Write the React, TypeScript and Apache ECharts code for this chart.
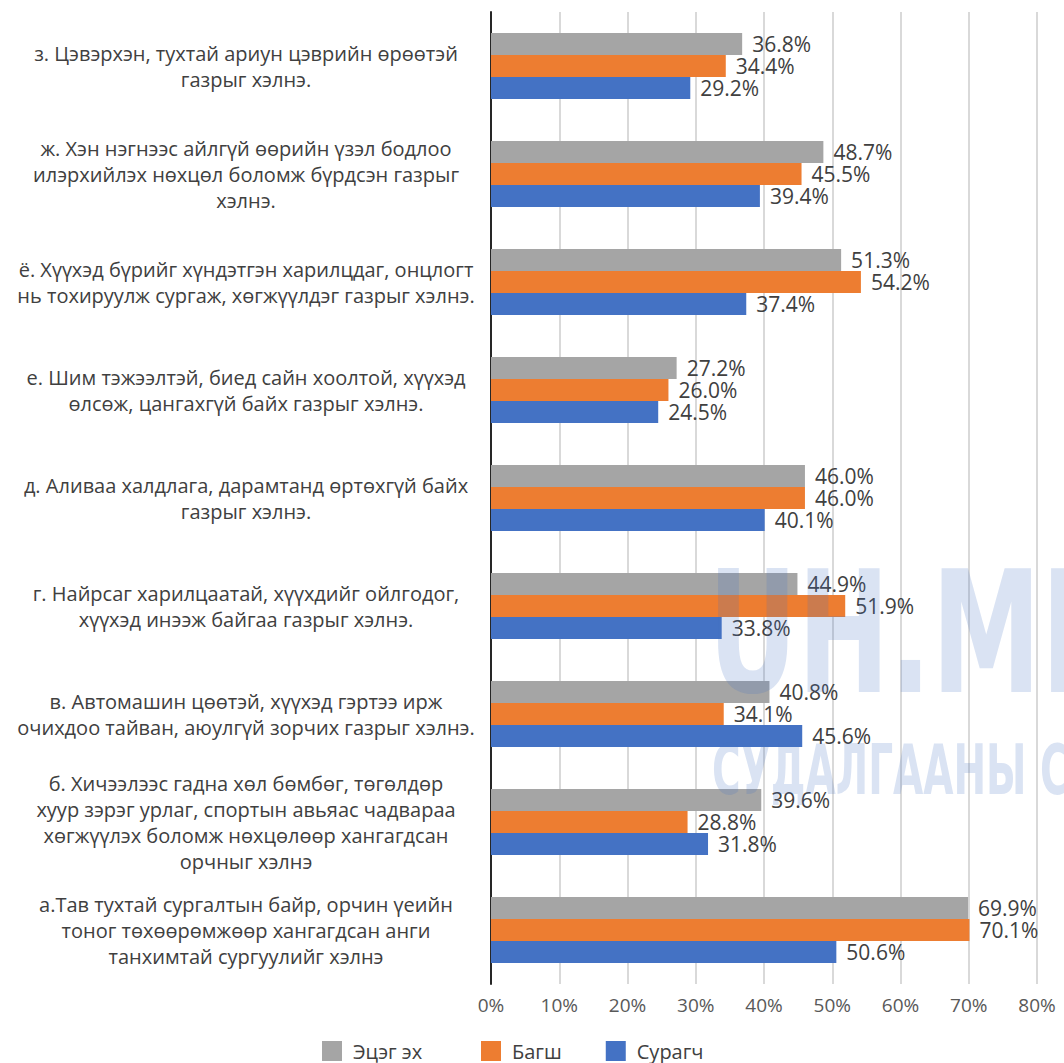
import React, { useEffect, useRef } from "react";
import * as echarts from "echarts";

const categories = [
  "а.Тав тухтай сургалтын байр, орчин үеийн\nтоног төхөөрөмжөөр хангагдсан анги\nтанхимтай сургуулийг хэлнэ",
  "б. Хичээлээс гадна хөл бөмбөг, төгөлдөр\nхуур зэрэг урлаг, спортын авьяас чадвараа\nхөгжүүлэх боломж нөхцөлөөр хангагдсан\nорчныг хэлнэ",
  "в. Автомашин цөөтэй, хүүхэд гэртээ ирж\nочихдоо тайван, аюулгүй зорчих газрыг хэлнэ.",
  "г. Найрсаг харилцаатай, хүүхдийг ойлгодог,\nхүүхэд инээж байгаа газрыг хэлнэ.",
  "д. Аливаа халдлага, дарамтанд өртөхгүй байх\nгазрыг хэлнэ.",
  "е. Шим тэжээлтэй, биед сайн хоолтой, хүүхэд\nөлсөж, цангахгүй байх газрыг хэлнэ.",
  "ё. Хүүхэд бүрийг хүндэтгэн харилцдаг, онцлогт\nнь тохируулж сургаж, хөгжүүлдэг газрыг хэлнэ.",
  "ж. Хэн нэгнээс айлгүй өөрийн үзэл бодлоо\nилэрхийлэх нөхцөл боломж бүрдсэн газрыг\nхэлнэ.",
  "з. Цэвэрхэн, тухтай ариун цэврийн өрөөтэй\nгазрыг хэлнэ.",
];

const parents = [69.9, 39.6, 40.8, 44.9, 46.0, 27.2, 51.3, 48.7, 36.8];
const teachers = [70.1, 28.8, 34.1, 51.9, 46.0, 26.0, 54.2, 45.5, 34.4];
const students = [50.6, 31.8, 45.6, 33.8, 40.1, 24.5, 37.4, 39.4, 29.2];

const xTicks = [0, 10, 20, 30, 40, 50, 60, 70, 80];

const FONT = "'Open Sans', 'Noto Sans', sans-serif";

export default function App() {
  const ref = useRef<HTMLDivElement>(null);
  useEffect(() => {
    document.body.style.margin = "0";
    const chart = echarts.init(ref.current!, null, { renderer: "svg" });
    const labelOpt = {
      show: true,
      position: "right",
      distance: 10,
      color: "#404040",
      fontSize: 21,
      lineHeight: 20,
      fontFamily: FONT,
      formatter: (p: any) => p.value.toFixed(1) + "%",
    };
    const mk = (name: string, data: number[], color: string) => ({
      name,
      type: "bar",
      data,
      barWidth: 22,
      barGap: "0%",
      itemStyle: { color },
      label: labelOpt,
    });
    const legendBase = {
      top: 1036,
      itemWidth: 20,
      itemHeight: 20,
      itemGap: 44,
      icon: "rect",
      textStyle: { fontSize: 20, lineHeight: 20, color: "#404040", fontFamily: FONT, padding: [0, 0, 0, 6] },
    };
    chart.setOption({
      animation: false,
      textStyle: { fontFamily: FONT },
      grid: { left: 491, right: 27, top: 12, bottom: 79, containLabel: false },
      legend: [
        { ...legendBase, data: ["Эцэг эх"], left: 317 },
        { ...legendBase, data: ["Багш", "Сурагч"], left: 476 },
      ],
      xAxis: {
        type: "value",
        min: xTicks[0],
        max: xTicks[xTicks.length - 1],
        interval: 10,
        axisLine: { show: false },
        axisTick: { show: false },
        axisLabel: {
          formatter: "{value}%",
          fontSize: 19,
          color: "#595959",
          fontFamily: FONT,
          margin: 11,
        },
        splitLine: { show: true, lineStyle: { color: "#d9d9d9", width: 2 } },
      },
      yAxis: {
        type: "category",
        data: categories,
        axisLine: { show: true, lineStyle: { color: "#262626", width: 2 } },
        axisTick: { show: false },
        axisLabel: {
          align: "center",
          margin: 245,
          fontSize: 20,
          lineHeight: 26,
          color: "#404040",
          fontFamily: FONT,
        },
      },
      series: [
        mk("Эцэг эх", parents, "#A5A5A5"),
        mk("Багш", teachers, "#ED7D31"),
        mk("Сурагч", students, "#4472C4"),
      ],
      graphic: [
        {
          type: "text",
          left: 708,
          top: 548,
          z: 100,
          scaleX: 0.72,
          style: {
            text: "UH.MN",
            font: "bold 170px 'DejaVu Sans Condensed', 'DejaVu Sans', sans-serif",
            fill: "rgba(68,114,196,0.2)",
          },
        },
        {
          type: "text",
          left: 712,
          top: 735,
          z: 100,
          scaleX: 0.62,
          style: {
            text: "СУДАЛГААНЫ СУДАЛГАА",
            font: "bold 70px 'DejaVu Sans Condensed', 'DejaVu Sans', sans-serif",
            fill: "rgba(68,114,196,0.2)",
          },
        },
      ],
    });
    return () => chart.dispose();
  }, []);
  return <div ref={ref} style={{ width: 1064, height: 1063 }} />;
}
